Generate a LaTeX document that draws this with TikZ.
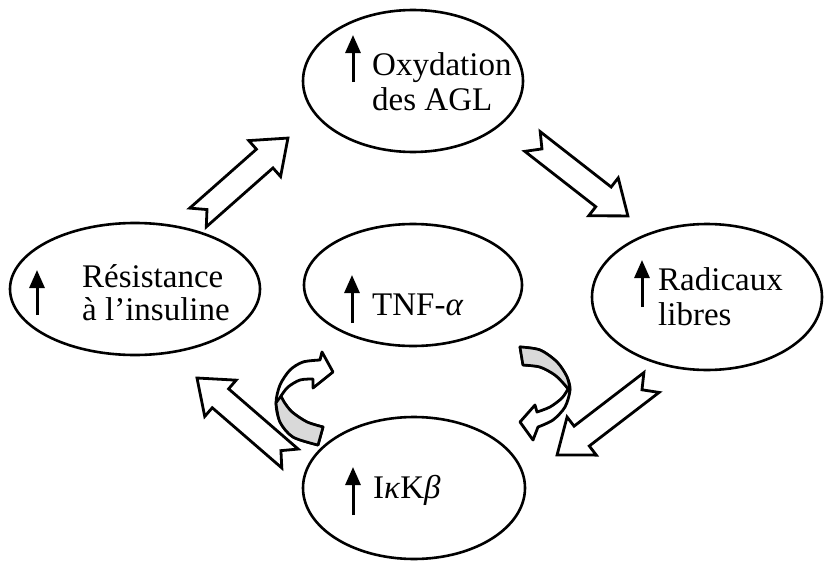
\documentclass[tikz,border=0pt]{standalone}
\usepackage{fontspec}
\setmainfont{Liberation Serif}
\usetikzlibrary{shapes.geometric,arrows.meta,calc}

\tikzset{
	oval/.style={ellipse, draw, line width=2.6pt, inner sep=0pt},
	lbl/.style={inner sep=0pt, anchor=base west, font=\fontsize{33}{38}\selectfont},
	uparr/.style={line width=3pt, -{Triangle[length=18pt, width=15pt]}},
	blockline/.style={draw, line width=2.8pt, fill=white, line join=miter},
	band/.style={fill=gray!30, draw, line width=2.6pt, line join=round},
	curvline/.style={draw, line width=2.8pt, line join=round},
	pics/bigarrow/.style={code={
		\path[blockline] (0,12.5) -- (#1-31,12.5) -- (#1-31,24) -- (#1,0) -- (#1-31,-24) -- (#1-31,-12.5) -- (0,-12.5) -- (12,0) -- cycle;
	}},
}

\begin{document}
\begin{tikzpicture}[x=1pt, y=-1pt]
	\useasboundingbox (0,0) rectangle (825,562);
	
	% ovals
	\node[oval, minimum width=220pt, minimum height=142pt] (ox) at (413,81) {};
	\node[oval, minimum width=250pt, minimum height=132pt] (res) at (135,289) {};
	\node[oval, minimum width=218pt, minimum height=122pt] (tnf) at (413,285) {};
	\node[oval, minimum width=230pt, minimum height=146pt] (rad) at (707,297) {};
	\node[oval, minimum width=222pt, minimum height=142pt] (ikk) at (414,488) {};
	
	% texts
	\node[lbl] (oxA) at (372,75) {Oxydation};
	\node[lbl] (oxB) at (372,110) {des AGL};
	\node[lbl] (resA) at (82,287) {Résistance};
	\node[lbl] (resB) at (82,320) {à l’insuline};
	\node[lbl] (tnfA) at (372,315) {TNF-\textit{α}};
	\node[lbl] (radA) at (658,290) {Radicaux};
	\node[lbl] (radB) at (658,325) {libres};
	\node[lbl] (ikkA) at (373,498) {I\textit{κ}K\textit{β}};
	
	% small up arrows
	\draw[uparr] (353,82) -- (353,35);
	\draw[uparr] (37,315) -- (37,270);
	\draw[uparr] (352,323) -- (352,275);
	\draw[uparr] (642,307) -- (642,260);
	\draw[uparr] (353,515) -- (353,467);
	
	% block arrows
	\coordinate (t1) at (198,217.5);
	\coordinate (h1) at (288,138);
	\coordinate (t2) at (532.5,141.5);
	\coordinate (h2) at (628,216);
	\coordinate (t3) at (651.5,382.5);
	\coordinate (h3) at (557,455);
	\coordinate (t4) at (290,458.5);
	\coordinate (h4) at (197,378);
	\path let \p1 = ($(h1)-(t1)$) in (t1) pic[rotate={atan2(\y1,\x1)}] {bigarrow=120};
	\path let \p1 = ($(h2)-(t2)$) in (t2) pic[rotate={atan2(\y1,\x1)}] {bigarrow=121};
	\path let \p1 = ($(h3)-(t3)$) in (t3) pic[rotate={atan2(\y1,\x1)}] {bigarrow=119};
	\path let \p1 = ($(h4)-(t4)$) in (t4) pic[rotate={atan2(\y1,\x1)}] {bigarrow=123};
	
	% curved arrow, left
	\path[curvline, fill=white] (323,427) -- plot[smooth] coordinates {(318,445) (293,437) (280,422) (276,403) (280,385) (290,370) (303,362) (320,360)}
		-- (322,352) -- (333,372) -- (313,388)
		-- plot[smooth] coordinates {(313,379) (300,380) (288,387) (281,396)}
		-- plot[smooth] coordinates {(281,396) (284,402) (292,412) (307,422) (323,427)} -- cycle;
	\path[band] (323,427) -- plot[smooth] coordinates {(318,445) (293,437) (280,422) (276,403)}
		-- plot[smooth] coordinates {(281,396) (284,402) (292,412) (307,422) (323,427)} -- cycle;
	
	% curved arrow, right
	\path[curvline, fill=white] (523,365) -- plot[smooth] coordinates {(520,347) (540,350) (557,362) (567,377) (570,390) (565,407) (553,420) (538,427)}
		-- (533,440) -- (520,422) -- (535,405)
		-- plot[smooth] coordinates {(537,412) (550,407) (562,398) (568,389)}
		-- plot[smooth] coordinates {(568,389) (565,385) (555,375) (540,367) (523,365)} -- cycle;
	\path[band] (523,365) -- plot[smooth] coordinates {(520,347) (540,350) (557,362) (567,377) (570,390)}
		-- plot[smooth] coordinates {(568,389) (565,385) (555,375) (540,367) (523,365)} -- cycle;
	
\end{tikzpicture}
\end{document}
